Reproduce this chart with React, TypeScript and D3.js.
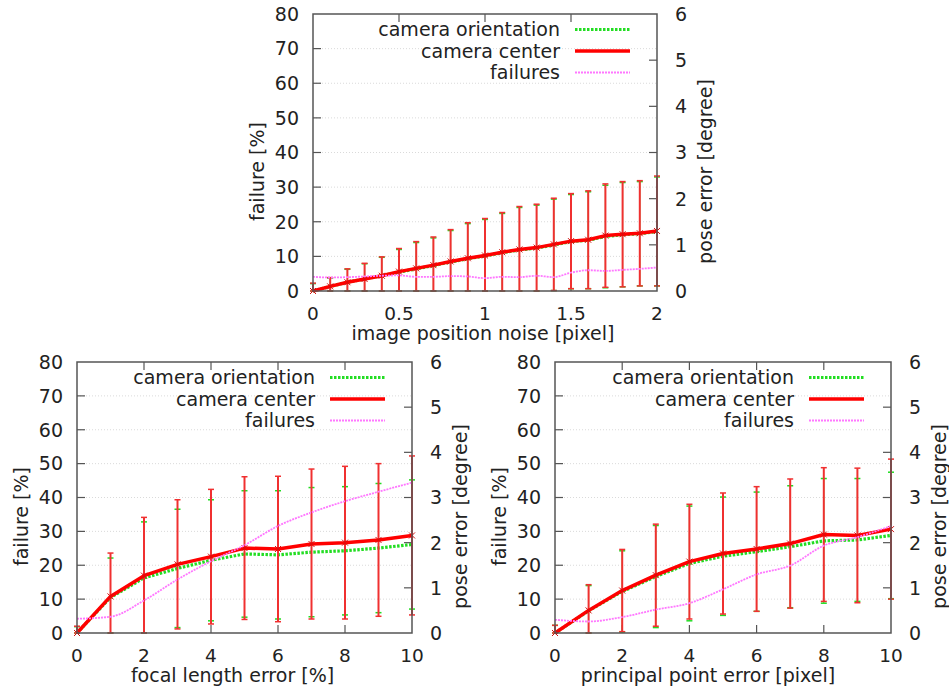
import React, { useEffect, useRef } from 'react';
import * as d3 from 'd3';

// ---- data ----
// pose errors are in degrees (right axis), failures in % (left axis)
const seriesNames = ["camera orientation", "camera center", "failures"];

// top: image position noise [pixel]
const noiseX = [0, 0.1, 0.2, 0.3, 0.4, 0.5, 0.6, 0.7, 0.8, 0.9, 1.0, 1.1, 1.2, 1.3, 1.4, 1.5, 1.6, 1.7, 1.8, 1.9, 2.0];
const noiseTicks = [0, 0.5, 1, 1.5, 2];
const noiseCenter = [0, 0.10, 0.19, 0.26, 0.33, 0.42, 0.49, 0.56, 0.64, 0.71, 0.77, 0.84, 0.90, 0.94, 1.01, 1.08, 1.11, 1.20, 1.23, 1.25, 1.30];
const noiseCenterSd = [0.17, 0.19, 0.29, 0.34, 0.41, 0.50, 0.58, 0.61, 0.69, 0.77, 0.80, 0.86, 0.93, 0.94, 1.00, 1.03, 1.06, 1.12, 1.14, 1.14, 1.19];
const noiseOrient = [0, 0.10, 0.19, 0.26, 0.33, 0.41, 0.48, 0.55, 0.63, 0.70, 0.76, 0.83, 0.89, 0.93, 1.00, 1.07, 1.10, 1.18, 1.22, 1.24, 1.29];
const noiseOrientSd = [0.16, 0.18, 0.28, 0.33, 0.40, 0.49, 0.57, 0.60, 0.68, 0.76, 0.79, 0.85, 0.92, 0.93, 0.99, 1.02, 1.05, 1.11, 1.13, 1.13, 1.18];
const noiseFail = [4.1, 3.9, 4.0, 4.2, 4.4, 4.5, 4.1, 4.1, 4.3, 4.2, 3.7, 4.1, 4.0, 4.4, 4.0, 5.3, 6.0, 5.8, 6.1, 6.4, 6.8];

// bottom left: focal length error [%]
const focalX = [0, 1, 2, 3, 4, 5, 6, 7, 8, 9, 10];
const focalTicks = [0, 2, 4, 6, 8, 10];
const focalCenter = [0, 0.81, 1.27, 1.52, 1.69, 1.88, 1.86, 1.97, 2.00, 2.06, 2.16];
const focalCenterSd = [0.15, 0.96, 1.29, 1.43, 1.49, 1.58, 1.61, 1.66, 1.69, 1.69, 1.76];
const focalOrient = [0, 0.79, 1.22, 1.43, 1.61, 1.75, 1.73, 1.79, 1.82, 1.88, 1.96];
const focalOrientSd = [0.14, 0.87, 1.24, 1.31, 1.34, 1.40, 1.42, 1.43, 1.42, 1.43, 1.43];
const focalFail = [4.2, 4.8, 9.6, 15.8, 21.2, 25.9, 31.6, 35.6, 38.9, 41.7, 44.4];

// bottom right: principal point error [pixel]
const ppX = [0, 1, 2, 3, 4, 5, 6, 7, 8, 9, 10];
const ppTicks = [0, 2, 4, 6, 8, 10];
const ppCenter = [0, 0.50, 0.94, 1.28, 1.58, 1.76, 1.86, 1.98, 2.18, 2.16, 2.30];
const ppCenterSd = [0.17, 0.57, 0.91, 1.13, 1.27, 1.34, 1.38, 1.43, 1.48, 1.49, 1.55];
const ppOrient = [0, 0.49, 0.92, 1.25, 1.54, 1.70, 1.80, 1.91, 2.04, 2.06, 2.16];
const ppOrientSd = [0.17, 0.56, 0.90, 1.13, 1.27, 1.31, 1.32, 1.35, 1.38, 1.36, 1.40];
const ppFail = [3.9, 3.4, 4.7, 6.9, 8.8, 12.9, 17.3, 19.9, 25.8, 28.3, 31.6];

const failTicks = [0, 10, 20, 30, 40, 50, 60, 70, 80];
const poseTicks = [0, 1, 2, 3, 4, 5, 6];

const FONT = "DejaVu Sans, sans-serif";
const GREEN = "#22dd22";
const RED = "#ff0000";
const BAR_RED = "#f03030";
const MAGENTA = "#ff77ff";

const App = () => {
    const ref = useRef<SVGSVGElement>(null);

    useEffect(() => {
        if (!ref.current) return;
        const svg = d3.select(ref.current);
        svg.selectAll("*").remove();

        const panels = [
            { left: 313, top: 14, w: 344, h: 277, xs: noiseX, domain: [0, 2], ticks: noiseTicks, label: "image position noise [pixel]", labelDx: -2,
              center: noiseCenter, centerSd: noiseCenterSd, orient: noiseOrient, orientSd: noiseOrientSd, fail: noiseFail },
            { left: 77, top: 362, w: 335, h: 271, xs: focalX, domain: [0, 10], ticks: focalTicks, label: "focal length error [%]", labelDx: -12,
              center: focalCenter, centerSd: focalCenterSd, orient: focalOrient, orientSd: focalOrientSd, fail: focalFail },
            { left: 555, top: 362, w: 336, h: 271, xs: ppX, domain: [0, 10], ticks: ppTicks, label: "principal point error [pixel]", labelDx: -15,
              center: ppCenter, centerSd: ppCenterSd, orient: ppOrient, orientSd: ppOrientSd, fail: ppFail },
        ];

        panels.forEach(p => {
            const g = svg.append("g");
            const bottom = p.top + p.h;
            const right = p.left + p.w;
            const x = d3.scaleLinear().domain(p.domain).range([p.left, right]);
            const yL = d3.scaleLinear().domain([0, 80]).range([bottom, p.top]);
            const yR = d3.scaleLinear().domain([0, 6]).range([bottom, p.top]);

            // grid
            g.selectAll(".grid").data(failTicks.slice(1, -1)).enter().append("line")
                .attr("x1", p.left).attr("x2", right)
                .attr("y1", d => yL(d)).attr("y2", d => yL(d))
                .attr("stroke", "#d0d0d0").attr("stroke-width", 0.8).attr("stroke-dasharray", "1,2");

            // inner ticks
            failTicks.slice(1, -1).forEach(t => {
                g.append("line").attr("x1", p.left).attr("x2", p.left + 8).attr("y1", yL(t)).attr("y2", yL(t))
                    .attr("stroke", "#555").attr("stroke-width", 1.2);
            });
            poseTicks.slice(1, -1).forEach(t => {
                g.append("line").attr("x1", right - 8).attr("x2", right).attr("y1", yR(t)).attr("y2", yR(t))
                    .attr("stroke", "#555").attr("stroke-width", 1.2);
            });
            p.ticks.slice(1, -1).forEach(t => {
                g.append("line").attr("x1", x(t)).attr("x2", x(t)).attr("y1", bottom).attr("y2", bottom - 8)
                    .attr("stroke", "#555").attr("stroke-width", 1.2);
                g.append("line").attr("x1", x(t)).attr("x2", x(t)).attr("y1", p.top).attr("y2", p.top + 8)
                    .attr("stroke", "#555").attr("stroke-width", 1.2);
            });

            // tick labels
            g.selectAll(".yl").data(failTicks).enter().append("text")
                .attr("x", p.left - 14).attr("y", d => yL(d)).attr("dy", "0.36em")
                .attr("text-anchor", "end").attr("font-family", FONT).attr("font-size", 19).attr("fill", "#222")
                .text(d => d);
            g.selectAll(".yr").data(poseTicks).enter().append("text")
                .attr("x", right + 18).attr("y", d => yR(d)).attr("dy", "0.36em")
                .attr("text-anchor", "start").attr("font-family", FONT).attr("font-size", 19).attr("fill", "#222")
                .text(d => d);
            g.selectAll(".xt").data(p.ticks).enter().append("text")
                .attr("x", d => x(d)).attr("y", bottom + 29)
                .attr("text-anchor", "middle").attr("font-family", FONT).attr("font-size", 18.5).attr("fill", "#222")
                .text(d => d);

            // axis titles
            g.append("text").attr("x", (p.left + right) / 2 + p.labelDx).attr("y", bottom + 49)
                .attr("text-anchor", "middle").attr("font-family", FONT).attr("font-size", 19).attr("fill", "#222")
                .text(p.label);
            const midY = (p.top + bottom) / 2 + 19;
            g.append("text").attr("transform", `translate(${p.left - 56},${midY}) rotate(-90)`).attr("dy", "0.36em")
                .attr("text-anchor", "middle").attr("font-family", FONT).attr("font-size", 19).attr("fill", "#222")
                .text("failure [%]");
            g.append("text").attr("transform", `translate(${right + 48},${midY}) rotate(-90)`).attr("dy", "0.36em")
                .attr("text-anchor", "middle").attr("font-family", FONT).attr("font-size", 19).attr("fill", "#222")
                .text("pose error [degree]");

            // error bars (mean ± sd, clipped at 0)
            const drawBars = (mean: number[], sd: number[], color: string, width: number) => {
                mean.forEach((m, i) => {
                    const cx = x(p.xs[i]);
                    const lo = yR(Math.max(0, m - sd[i]));
                    const hi = yR(m + sd[i]);
                    g.append("line").attr("x1", cx).attr("x2", cx).attr("y1", lo).attr("y2", hi)
                        .attr("stroke", color).attr("stroke-width", width);
                    [lo, hi].forEach(yy => {
                        g.append("line").attr("x1", cx - 3).attr("x2", cx + 3).attr("y1", yy).attr("y2", yy)
                            .attr("stroke", color).attr("stroke-width", 1.5);
                    });
                });
            };

            const line = d3.line<number>().x((d, i) => x(p.xs[i])).y(d => yR(d));
            const failLine = d3.line<number>().x((d, i) => x(p.xs[i])).y(d => yL(d)).curve(d3.curveMonotoneX);

            // camera orientation
            drawBars(p.orient, p.orientSd, GREEN, 1);
            g.append("path").datum(p.orient).attr("d", line)
                .attr("fill", "none").attr("stroke", GREEN).attr("stroke-width", 3.2).attr("stroke-dasharray", "2.5,1.5");

            // camera center
            drawBars(p.center, p.centerSd, BAR_RED, 2);
            g.append("path").datum(p.center).attr("d", line)
                .attr("fill", "none").attr("stroke", RED).attr("stroke-width", 3.5).attr("stroke-linejoin", "round");
            p.center.forEach((m, i) => {
                const cx = x(p.xs[i]), cy = yR(m);
                g.append("path").attr("d", `M${cx - 3},${cy - 3}L${cx + 3},${cy + 3}M${cx - 3},${cy + 3}L${cx + 3},${cy - 3}`)
                    .attr("stroke", "#d01010").attr("stroke-width", 1);
            });

            // failures
            g.append("path").datum(p.fail).attr("d", failLine)
                .attr("fill", "none").attr("stroke", MAGENTA).attr("stroke-width", 1.8).attr("stroke-dasharray", "2,1");

            // frame
            g.append("rect").attr("x", p.left).attr("y", p.top).attr("width", p.w).attr("height", p.h)
                .attr("fill", "none").attr("stroke", "#555").attr("stroke-width", 1.5);

            // legend
            const legendStyles = [
                { color: GREEN, width: 3.2, dash: "2.5,1.5" },
                { color: RED, width: 3.5, dash: null },
                { color: MAGENTA, width: 1.8, dash: "2,1" },
            ];
            seriesNames.forEach((name, i) => {
                const ly = p.top + 15.5 + i * 21.5;
                g.append("text").attr("x", right - 97).attr("y", ly).attr("dy", "0.36em")
                    .attr("text-anchor", "end").attr("font-family", FONT).attr("font-size", 19).attr("fill", "#222")
                    .text(name);
                g.append("line").attr("x1", right - 82).attr("x2", right - 27).attr("y1", ly).attr("y2", ly)
                    .attr("stroke", legendStyles[i].color).attr("stroke-width", legendStyles[i].width)
                    .attr("stroke-dasharray", legendStyles[i].dash);
            });
        });
    }, []);

    return (
        <svg ref={ref} width="949" height="690" style={{ position: "absolute", left: 0, top: 0, background: "#fff" }}></svg>
    );
};

export default App;
